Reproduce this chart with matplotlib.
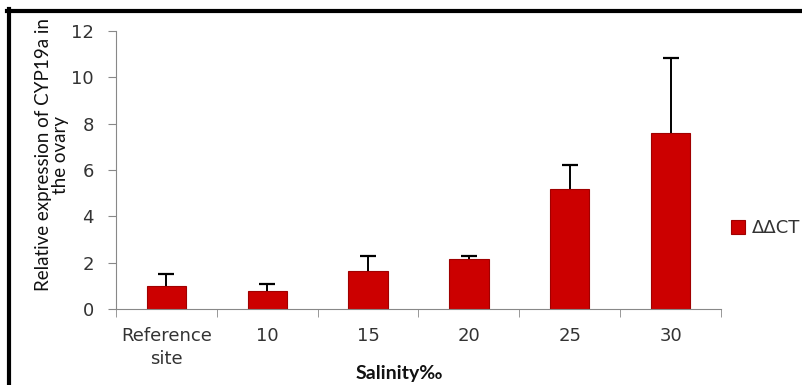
import matplotlib.pyplot as plt
import numpy as np
from matplotlib.lines import Line2D

# relative expression of CYP19a (ddCT) per salinity group
groups = ["Reference\nsite", "10", "15", "20", "25", "30"]
expression = [1.0, 0.78, 1.64, 2.16, 5.2, 7.6]
errors = [0.5, 0.30, 0.66, 0.13, 1.02, 3.22]

fig = plt.figure(figsize=(8.03, 3.85), dpi=100)
ax = fig.add_axes([116/803, 1-309/385, (721-116)/803, 278/385])

x = np.arange(len(groups))
ax.bar(x, expression, width=0.39, color="#cc0000", edgecolor="#a00000",
       linewidth=0.8, zorder=2, label="ΔΔCT")

# upper error bars only (stem + cap)
tops = np.array(expression) + np.array(errors)
ax.vlines(x, expression, tops, color="black", linewidth=1.4, zorder=1)
ax.plot(x, tops, ls="none", marker="_", markersize=11, markeredgewidth=1.6,
        color="black", zorder=3)

ax.set_xlim(-0.5, len(groups) - 0.5)
ax.set_ylim(0, 12)
ax.set_yticks(range(0, 13, 2))
ax.set_xticks(x)
ax.set_xticklabels(groups, fontsize=13, color="#333333", linespacing=1.35)
ax.set_xticks(np.arange(-0.5, len(groups), 1), minor=True)
ax.tick_params(axis="x", which="major", length=0, pad=13)
ax.tick_params(axis="x", which="minor", length=6, color="#888888")
ax.tick_params(axis="y", length=6, color="#888888", labelsize=13,
               labelcolor="#333333", pad=10)

for side in ["top", "right"]:
    ax.spines[side].set_visible(False)
for side in ["left", "bottom"]:
    ax.spines[side].set_color("#888888")

ax.set_ylabel("Relative expression of CYP19a in\nthe ovary", family="Lato",
              fontsize=13.5, color="#111111", linespacing=1.05)
ax.yaxis.set_label_coords(-0.077, 0.555)
fig.text(399/803, 1-373/385, "Salinity‰", family="Lato", fontweight="bold",
         fontsize=14, color="#111111", ha="center", va="center")

ax.legend(loc="center left", bbox_to_anchor=(0.99, 0.29), frameon=False,
          handlelength=0.75, handleheight=0.75, handletextpad=0.4,
          prop={"size": 13}, labelcolor="#333333")

# frame lines on top and left edge of the figure
fig.add_artist(Line2D([7/803, 1], [1-10.5/385, 1-10.5/385], color="black",
                      linewidth=3, transform=fig.transFigure))
fig.add_artist(Line2D([8.5/803, 8.5/803], [0, 1-9/385], color="black",
                      linewidth=3, transform=fig.transFigure))

fig.savefig("out.png", dpi=100)
